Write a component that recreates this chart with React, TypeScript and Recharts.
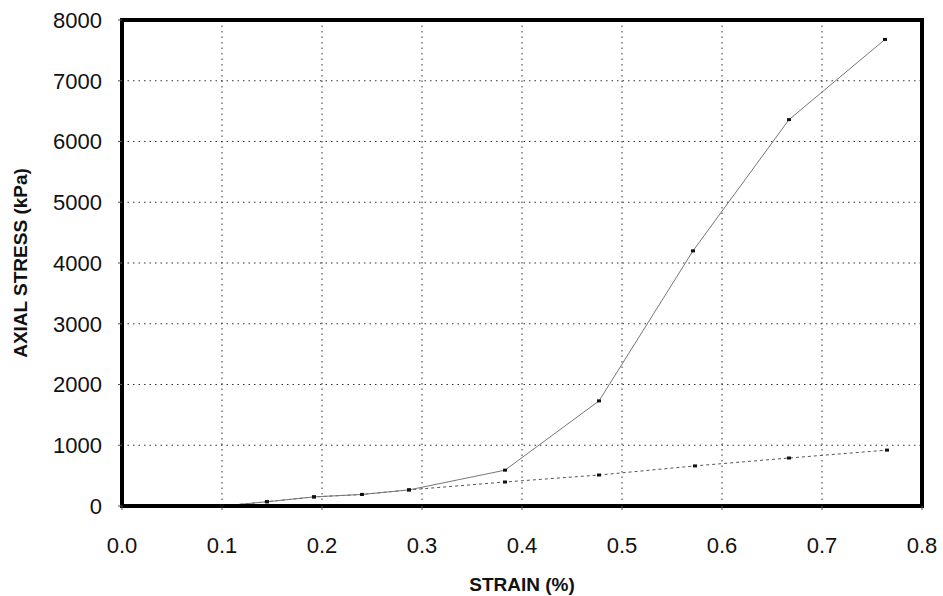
import React from 'react';
import { LineChart, Line, XAxis, YAxis, CartesianGrid, ReferenceArea } from 'recharts';

// strain (%) vs axial stress (kPa)
const upperStrain = [0.1, 0.145, 0.192, 0.24, 0.287, 0.383, 0.477, 0.571, 0.667, 0.763];
const upperStress = [0, 70, 150, 190, 265, 590, 1730, 4200, 6360, 7680];
const lowerStrain = [0.1, 0.145, 0.192, 0.24, 0.287, 0.383, 0.477, 0.573, 0.667, 0.765];
const lowerStress = [0, 70, 150, 190, 265, 395, 510, 660, 790, 920];

const xTicks = [0, 0.1, 0.2, 0.3, 0.4, 0.5, 0.6, 0.7, 0.8];
const yTicks = [0, 1000, 2000, 3000, 4000, 5000, 6000, 7000, 8000];

const upper = upperStrain.map((x, i) => ({ x, y: upperStress[i] }));
const lower = lowerStrain.map((x, i) => ({ x, y: lowerStress[i] }));

const FONT = '"Liberation Sans", Arial, sans-serif';

function SquareDot(props: any) {
  const { cx, cy } = props;
  if (cx == null || cy == null) return null;
  return <rect x={cx - 2} y={cy - 1.5} width={4} height={3} fill="#111" />;
}

function YLabel(props: any) {
  const vb = props.viewBox || {};
  const cy = vb.y + vb.height / 2;
  return (
    <text
      x={20}
      y={cy}
      transform={`rotate(-90, 20, ${cy})`}
      textAnchor="middle"
      dominantBaseline="central"
      fontFamily={FONT}
      fontWeight="bold"
      fontSize={19}
      fill="#111"
    >
      AXIAL STRESS (kPa)
    </text>
  );
}

export default function App() {
  const tickStyle = { fontSize: 22, fill: '#111', fontFamily: FONT };
  return (
    <div style={{ position: 'absolute', left: 0, top: 0, background: '#fff' }}>
      <LineChart width={943} height={596} margin={{ top: 20, right: 21, bottom: 0, left: 0 }}>
        <CartesianGrid stroke="#333" strokeDasharray="1.5 4" />
        <XAxis
          type="number"
          dataKey="x"
          domain={[0, 0.8]}
          ticks={xTicks}
          tickFormatter={(v: number) => v.toFixed(1)}
          height={90}
          tick={tickStyle}
          tickSize={4}
          tickMargin={27}
          tickLine={{ stroke: '#555' }}
          axisLine={{ stroke: '#000', strokeWidth: 4 }}
          allowDuplicatedCategory={false}
          label={{ value: 'STRAIN (%)', position: 'insideBottom', offset: 5, style: { fontFamily: FONT, fontWeight: 'bold', fontSize: 19, fill: '#111' } }}
        />
        <YAxis
          type="number"
          domain={[0, 8000]}
          ticks={yTicks}
          width={122}
          tick={tickStyle}
          tickSize={4}
          tickMargin={16}
          tickLine={{ stroke: '#555' }}
          axisLine={{ stroke: '#000', strokeWidth: 4 }}
          label={<YLabel />}
        />
        <ReferenceArea x1={0} x2={0.8} y1={0} y2={8000} fill="none" stroke="#000" strokeWidth={4} />
        <Line
          data={lower}
          dataKey="y"
          type="linear"
          stroke="#555"
          strokeWidth={1}
          strokeDasharray="3 3"
          dot={<SquareDot />}
          isAnimationActive={false}
        />
        <Line
          data={upper}
          dataKey="y"
          type="linear"
          stroke="#777"
          strokeWidth={1}
          dot={<SquareDot />}
          isAnimationActive={false}
        />
      </LineChart>
    </div>
  );
}
